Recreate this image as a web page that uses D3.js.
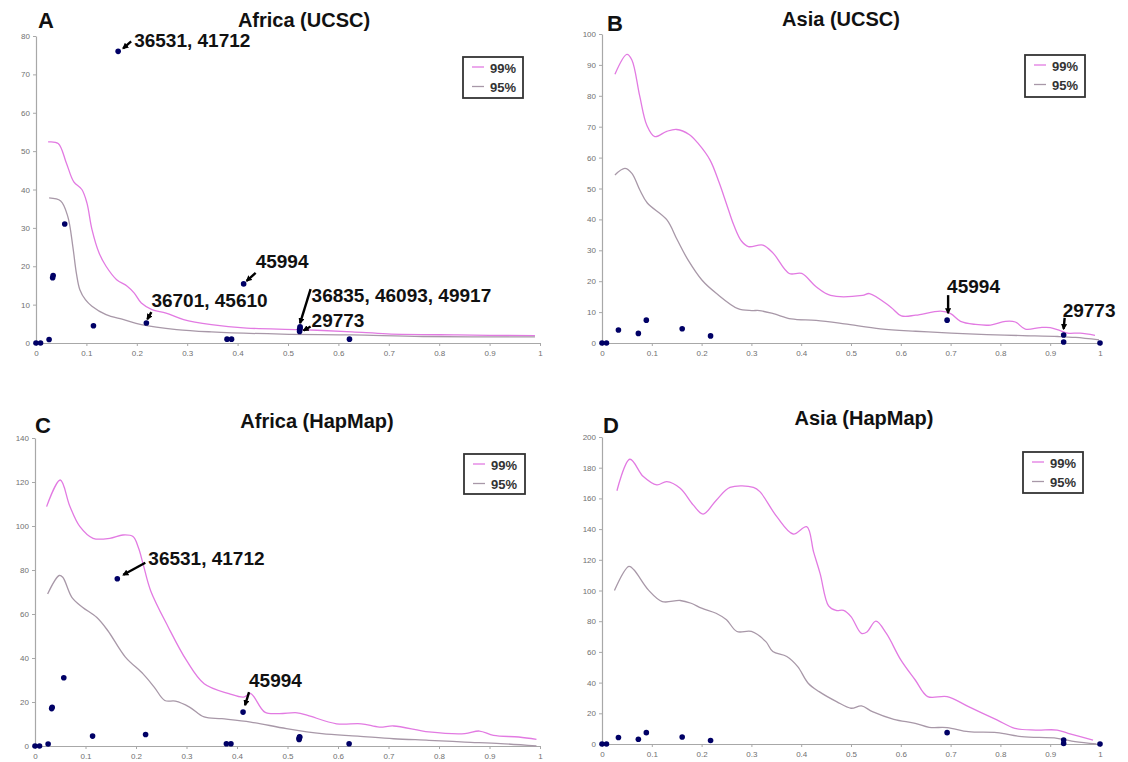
<!DOCTYPE html>
<html><head><meta charset="utf-8">
<script src="https://cdn.jsdelivr.net/npm/d3@7"></script>
<style>body{margin:0;background:#fff}</style>
</head><body>
<svg id="c" width="1128" height="762"></svg>
<script>
// ---------- DATA ----------
const seriesNames = ["99%", "95%"];
const xTicks = [0, 0.1, 0.2, 0.3, 0.4, 0.5, 0.6, 0.7, 0.8, 0.9, 1];

// observed points (same SNPs in UCSC and HapMap panels)
const africaPtX = [0, 0.009, 0.026, 0.033, 0.034, 0.057, 0.114, 0.163, 0.219, 0.379, 0.388, 0.412, 0.523, 0.523, 0.524, 0.524, 0.622];
const africaPtY = [0, 0, 0.9, 17, 17.6, 31, 4.5, 76, 5.2, 1, 1, 15.4, 3.0, 3.5, 3.9, 4.2, 1];
const asiaPtX = [0, 0.009, 0.033, 0.073, 0.089, 0.161, 0.218, 0.693, 0.927, 0.927, 1.0];
const asiaPtY = [0, 0, 4.2, 3.1, 7.4, 4.6, 2.3, 7.4, 2.6, 0.3, 0];

// A: Africa (UCSC)
const a99x = [0.024,0.044,0.06,0.075,0.091,0.101,0.111,0.125,0.139,0.16,0.181,0.195,0.209,0.23,0.258,0.293,0.348,0.418,0.523,0.627,0.697,0.836,0.99];
const a99y = [52.4,52,47,42,40,36.5,29.6,23.5,20,16.5,14.8,13,10.4,8.7,7.8,6.1,4.8,3.9,3.5,2.9,2.4,2.1,1.9];
const a95x = [0.026,0.049,0.063,0.073,0.08,0.087,0.098,0.111,0.139,0.174,0.209,0.279,0.348,0.488,0.627,0.767,0.99];
const a95y = [37.8,37,33,25.2,18.3,13.9,11.3,9.6,7.4,6.1,4.8,3.5,2.9,2.3,2.1,1.7,1.6];
// B: Asia (UCSC)
const b99x = [0.026,0.05,0.06,0.076,0.09,0.106,0.13,0.15,0.175,0.193,0.217,0.235,0.25,0.265,0.28,0.294,0.323,0.344,0.376,0.401,0.43,0.459,0.523,0.537,0.58,0.601,0.63,0.68,0.7,0.72,0.75,0.78,0.81,0.83,0.85,0.88,0.9,0.92,0.935,0.96,0.99];
const b99y = [87,93.4,91.6,79.7,70.5,66.8,68.5,69.1,67.5,64.6,59.2,52,45,38,33,31.2,31.7,29,22.5,22.5,18.2,15.4,15.4,16,11.6,8.8,9,10.3,9.5,7,6,5.8,7,6.8,4.5,5,5,4,3.2,3.2,2.5];
const b95x = [0.026,0.046,0.06,0.076,0.091,0.13,0.151,0.173,0.201,0.23,0.273,0.301,0.316,0.344,0.38,0.43,0.487,0.559,0.63,0.701,0.773,0.844,0.916,0.951,0.998];
const b95y = [54.4,56.5,54.9,49.5,45.3,39.9,33.4,26.8,20.3,16,11.1,10.5,10.5,9.5,7.8,7.3,6.2,4.6,3.8,3.2,2.7,2.4,2.1,1.8,1];
// C: Africa (HapMap)
const c99x = [0.023,0.05,0.069,0.089,0.115,0.148,0.174,0.194,0.205,0.214,0.229,0.264,0.3,0.335,0.384,0.413,0.427,0.455,0.483,0.519,0.54,0.597,0.646,0.682,0.71,0.78,0.851,0.88,0.908,0.958,0.993];
const c99y = [108.8,120.9,109,99.7,94.4,94.4,95.9,95.2,90,82.8,70.6,54,38.9,28.3,23.8,22.2,23.8,15.4,14.7,15.1,13.9,10.1,10.1,8.6,9.1,6.4,5.6,6.8,4.8,4.1,3];
const c95x = [0.025,0.048,0.055,0.073,0.094,0.122,0.144,0.179,0.214,0.236,0.257,0.278,0.306,0.335,0.37,0.427,0.498,0.568,0.639,0.71,0.78,0.851,0.922,0.993];
const c95y = [69.1,77.5,76.7,67.6,63.1,58.5,52.5,40.4,32.8,26.8,20.7,20.4,17.7,13.2,12.4,10.9,7.9,5.6,4.5,3.3,2.6,1.8,1.1,0];
// D: Asia (HapMap)
const d99x = [0.03,0.056,0.083,0.11,0.13,0.157,0.183,0.203,0.23,0.257,0.304,0.317,0.351,0.384,0.411,0.425,0.438,0.455,0.47,0.485,0.5,0.521,0.532,0.55,0.571,0.6,0.629,0.654,0.693,0.736,0.793,0.829,0.871,0.914,0.936,0.986];
const d99y = [165,185.5,174.2,168.8,170.9,166.6,155.8,149.8,159,167.2,167.2,164.4,148.1,136.8,141.6,125,111,90,87,87,83,72,73,80,72,54.8,41.7,30.9,30.9,24.3,15.7,10.2,9.1,9.1,7,2.6];
const d95x = [0.025,0.054,0.064,0.093,0.121,0.157,0.179,0.2,0.229,0.25,0.271,0.3,0.329,0.343,0.371,0.393,0.414,0.436,0.471,0.5,0.521,0.543,0.586,0.629,0.657,0.693,0.736,0.793,0.843,0.914,0.95,0.993];
const d95y = [100,115.7,113.5,100.4,92.8,93.5,91.7,88.5,85.2,80.9,73.3,73.3,66.7,60.2,57,50.4,39.6,34.1,27.6,23.3,24.8,21.1,16.1,13.5,10.9,10.7,8,7.4,4.8,3.7,1.5,0];

const panelLetters = ["A", "B", "C", "D"];
const panelTitles = ["Africa (UCSC)", "Asia (UCSC)", "Africa (HapMap)", "Asia (HapMap)"];
const panelYMax = [80, 100, 140, 200];
const panelYStep = [10, 10, 20, 20];

// annotations: [panel index, label, point x, point y]
const annoPanel = [0, 0, 0, 0, 0, 1, 1, 2, 2];
const annoText = ["36531, 41712", "45994", "36701, 45610", "36835, 46093, 49917", "29773", "45994", "29773", "36531, 41712", "45994"];
const annoX = [0.163, 0.412, 0.219, 0.523, 0.523, 0.693, 0.927, 0.163, 0.412];
const annoY = [76, 15.4, 5.2, 3.9, 3.0, 7.4, 2.6, 76, 15.4];

// ---------- LAYOUT / STYLE ----------
const FONT = "'Liberation Sans', Arial, Helvetica, sans-serif";
const colors = {"99%": "#e27ae2", "95%": "#a898a8", point: "#000066", axis: "#a8a8a8", tick: "#707070"};
const layout = [
  {left: 36, right: 540, top: 36, bottom: 343, titleX: 304, titleY: 27, letterX: 38, letterY: 28, leg: [463, 57, 60, 41]},
  {left: 602, right: 1100, top: 34, bottom: 343, titleX: 841, titleY: 26, letterX: 607, letterY: 31, leg: [1025, 55, 60, 42]},
  {left: 35, right: 540, top: 438, bottom: 746, titleX: 317, titleY: 428, letterX: 35, letterY: 433, leg: [464, 454, 61, 40]},
  {left: 602, right: 1100, top: 437, bottom: 744, titleX: 864, titleY: 425, letterX: 603, letterY: 433, leg: [1023, 452, 60, 41]}
];
// label offsets (px) relative to point: [textDx, textDy, arrowFromDx, arrowFromDy, arrowToDx, arrowToDy]
const annoOffsets = [
  [16, -4, 13, -10, 5, -3],
  [12, -16, 12, -11, 3, -3],
  [5, -16, 5, -11, 1, -4],
  [12, -26, 11, -39, 0.5, -5],
  [12, -4, 11, -5, 4, -1],
  [0, -27, 1, -25, 1, -7],
  [-1, -18, 1, -17, 0, -6],
  [31, -14, 28, -16, 6, -4],
  [6, -25, 6, -20, 2, -7]
];

const curves = [
  [[a99x, a99y], [a95x, a95y]],
  [[b99x, b99y], [b95x, b95y]],
  [[c99x, c99y], [c95x, c95y]],
  [[d99x, d99y], [d95x, d95y]]
];
const points = [[africaPtX, africaPtY], [asiaPtX, asiaPtY], [africaPtX, africaPtY], [asiaPtX, asiaPtY]];

const svg = d3.select("#c");
svg.append("rect").attr("width", 1128).attr("height", 762).attr("fill", "#fff");
const defs = svg.append("defs");
defs.append("marker").attr("id", "arr").attr("viewBox", "0 0 10 10")
  .attr("refX", 8).attr("refY", 5).attr("markerWidth", 2.6).attr("markerHeight", 2.6)
  .attr("orient", "auto")
  .append("path").attr("d", "M0,0 L10,5 L0,10 z").attr("fill", "#000");

panelLetters.forEach((letter, i) => {
  const L = layout[i];
  const x = d3.scaleLinear().domain([0, 1]).range([L.left, L.right]);
  const y = d3.scaleLinear().domain([0, panelYMax[i]]).range([L.bottom, L.top]);
  const g = svg.append("g");

  // y axis
  const ya = g.append("g").attr("transform", `translate(${L.left},0)`)
    .call(d3.axisLeft(y).tickValues(d3.range(0, panelYMax[i] + 0.001, panelYStep[i]))
      .tickSize(3).tickSizeOuter(0).tickPadding(3).tickFormat(d3.format("d")));
  // x axis
  const xa = g.append("g").attr("transform", `translate(0,${L.bottom})`)
    .call(d3.axisBottom(x).tickValues(xTicks).tickSize(3).tickSizeOuter(0).tickPadding(4)
      .tickFormat(d3.format("~g")));
  [ya, xa].forEach(a => {
    a.select(".domain").attr("stroke", colors.axis).attr("stroke-width", 1.2);
    a.selectAll(".tick line").attr("stroke", colors.axis);
    a.selectAll(".tick text").attr("fill", colors.tick).attr("font-size", 8).attr("font-family", FONT);
  });

  // curves
  const line = d3.line().x(d => x(d[0])).y(d => y(d[1])).curve(d3.curveCatmullRom.alpha(0.5));
  curves[i].forEach((c, k) => {
    const data = c[0].map((v, j) => [v, c[1][j]]);
    g.append("path").attr("d", line(data)).attr("fill", "none")
      .attr("stroke", colors[seriesNames[k]]).attr("stroke-width", 1.3);
  });

  // points
  const pts = points[i][0].map((v, j) => [v, points[i][1][j]]);
  g.selectAll("circle.pt").data(pts).join("circle").attr("class", "pt")
    .attr("cx", d => x(d[0])).attr("cy", d => y(d[1])).attr("r", 2.8)
    .attr("fill", colors.point);

  // title & letter
  g.append("text").attr("x", L.titleX).attr("y", L.titleY).attr("text-anchor", "middle")
    .attr("font-family", FONT).attr("font-weight", "bold").attr("font-size", 20).attr("fill", "#111")
    .text(panelTitles[i]);
  g.append("text").attr("x", L.letterX).attr("y", L.letterY)
    .attr("font-family", FONT).attr("font-weight", "bold").attr("font-size", 22).attr("fill", "#111")
    .text(letter);

  // legend
  const [lx, ly, lw, lh] = L.leg;
  const lg = g.append("g").attr("transform", `translate(${lx},${ly})`);
  lg.append("rect").attr("width", lw).attr("height", lh).attr("fill", "#fff")
    .attr("stroke", "#333").attr("stroke-width", 1.8);
  seriesNames.forEach((s, k) => {
    const yy = 10 + k * 19.5;
    lg.append("line").attr("x1", 9).attr("x2", 21).attr("y1", yy).attr("y2", yy)
      .attr("stroke", colors[s]).attr("stroke-width", 1.3);
    lg.append("text").attr("x", 27).attr("y", yy + 5.5).attr("font-family", FONT)
      .attr("font-weight", "bold").attr("font-size", 13).attr("fill", "#333").text(s);
  });

  // annotations
  annoPanel.forEach((p, j) => {
    if (p !== i) return;
    const px = x(annoX[j]), py = y(annoY[j]);
    const o = annoOffsets[j];
    g.append("line").attr("x1", px + o[2]).attr("y1", py + o[3]).attr("x2", px + o[4]).attr("y2", py + o[5])
      .attr("stroke", "#000").attr("stroke-width", 2.4).attr("marker-end", "url(#arr)");
    g.append("text").attr("x", px + o[0]).attr("y", py + o[1]).attr("font-family", FONT)
      .attr("font-weight", "bold").attr("font-size", 19).attr("fill", "#111").text(annoText[j]);
  });
});
</script>
</body></html>
